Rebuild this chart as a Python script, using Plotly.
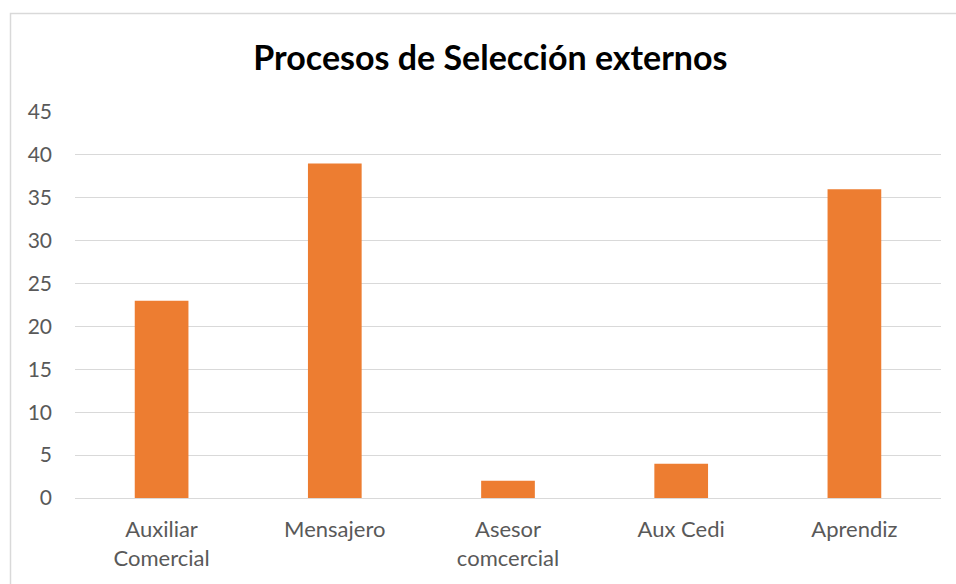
import plotly.graph_objects as go

# Selection processes per position
categories = ["Auxiliar<br>Comercial", "Mensajero", "Asesor<br>comcercial", "Aux Cedi", "Aprendiz"]
values = [23, 39, 2, 4, 36]
y_ticks = [0, 5, 10, 15, 20, 25, 30, 35, 40, 45]

W, H = 956, 584
L, R, T, B = 75, 15, 112, 86
plot_w = W - L - R
plot_h = H - T - B

fig = go.Figure(
    go.Bar(
        x=categories,
        y=values,
        marker=dict(color="#ED7D31", line=dict(width=0)),
        hoverinfo="x+y",
    )
)

# outer chart frame (partly runs off the page on the right/bottom)
fig.add_shape(
    type="rect",
    xref="paper", yref="paper",
    x0=(10.5 - L) / plot_w, x1=(W + 5 - L) / plot_w,
    y0=-(H + 5 - T - plot_h) / plot_h, y1=(H - 13.5 - B) / plot_h,
    line=dict(color="#D9D9D9", width=1.5),
    fillcolor="rgba(0,0,0,0)",
    layer="below",
)

fig.update_layout(
    width=W, height=H,
    margin=dict(l=L, r=R, t=T, b=B),
    paper_bgcolor="white",
    plot_bgcolor="white",
    bargap=0.69,
    showlegend=False,
    font=dict(family="Lato, Open Sans, sans-serif", color="#595959", size=21),
    title=dict(
        text="<b>Procesos de Selección externos</b>",
        x=0.513, xanchor="center",
        y=1 - 58 / H, yanchor="middle",
        font=dict(family="Lato, Open Sans, sans-serif", size=34, color="#000000"),
    ),
    xaxis=dict(
        showgrid=False,
        showline=False,
        zeroline=False,
        ticks="outside",
        ticklen=12,
        tickcolor="rgba(0,0,0,0)",
        tickfont=dict(size=22, color="#595959"),
    ),
    yaxis=dict(
        range=[0, 45],
        tickvals=y_ticks,
        showgrid=True,
        gridcolor="#D9D9D9",
        gridwidth=1,
        zeroline=True,
        zerolinecolor="#D9D9D9",
        zerolinewidth=1,
        showline=False,
        ticks="",
        ticklabelstandoff=22,
        tickfont=dict(size=21, color="#595959"),
    ),
)

fig.write_html("out.html")
